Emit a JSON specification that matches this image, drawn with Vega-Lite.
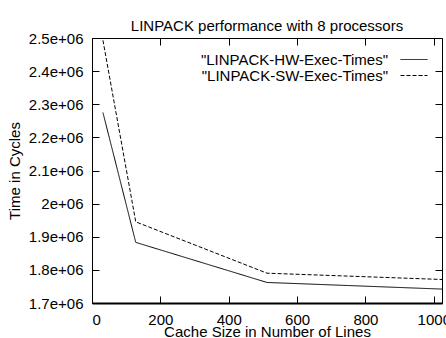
{
  "$schema": "https://vega.github.io/schema/vega-lite/v6.json",
  "autosize": "none",
  "width": 350,
  "height": 265,
  "padding": {"left": 92, "top": 38, "right": 4, "bottom": 35},
  "background": "white",
  "config": {
    "font": "Liberation Sans",
    "view": {"stroke": "black", "strokeWidth": 1},
    "axis": {"labelFont": "Liberation Sans", "titleFont": "Liberation Sans", "labelFontSize": 15, "titleFontSize": 15, "titleFontWeight": "normal", "labelColor": "black", "titleColor": "black", "domain": false, "ticks": false, "labelPadding": 9, "grid": true, "gridColor": "black", "gridOpacity": 1, "gridWidth": 1}
  },
  "title": {"text": "LINPACK performance with 8 processors", "fontSize": 15, "fontWeight": "normal", "font": "Liberation Sans", "color": "black", "offset": -3},
  "data": {"values": [
    {"lines": 32, "cycles": 2275000, "series": "\"LINPACK-HW-Exec-Times\""},
    {"lines": 128, "cycles": 1883000, "series": "\"LINPACK-HW-Exec-Times\""},
    {"lines": 512, "cycles": 1762000, "series": "\"LINPACK-HW-Exec-Times\""},
    {"lines": 1024, "cycles": 1742000, "series": "\"LINPACK-HW-Exec-Times\""},
    {"lines": 32, "cycles": 2493000, "series": "\"LINPACK-SW-Exec-Times\""},
    {"lines": 128, "cycles": 1945000, "series": "\"LINPACK-SW-Exec-Times\""},
    {"lines": 512, "cycles": 1790000, "series": "\"LINPACK-SW-Exec-Times\""},
    {"lines": 1024, "cycles": 1771000, "series": "\"LINPACK-SW-Exec-Times\""}
  ]},
  "mark": {"type": "line", "color": "black", "strokeWidth": 1, "clip": true},
  "encoding": {
    "x": {"field": "lines", "type": "quantitative", "scale": {"domain": [0, 1024], "nice": false, "zero": false},
          "axis": {"orient": "bottom", "title": "Cache Size in Number of Lines", "values": [0, 200, 400, 600, 800, 1000], "format": "d", "titlePadding": -3, "gridDash": [7, 251], "domain": true, "domainColor": "black", "domainWidth": 2}},
    "y": {"field": "cycles", "type": "quantitative", "scale": {"domain": [1700000, 2500000], "nice": false, "zero": false},
          "axis": {"orient": "left", "title": "Time in Cycles", "values": [1700000, 1800000, 1900000, 2000000, 2100000, 2200000, 2300000, 2400000, 2500000], "labelExpr": "replace(format(datum.value, '.2~e'), 'e+', 'e+0')", "titlePadding": 6, "gridDash": [7, 336]}},
    "strokeDash": {"field": "series", "type": "nominal",
                   "scale": {"domain": ["\"LINPACK-HW-Exec-Times\"", "\"LINPACK-SW-Exec-Times\""], "range": [[1, 0], [4, 2]]},
                   "legend": {"title": null, "orient": "none", "legendX": 314.5, "legendY": 14, "symbolType": "M-2.25,0H2.25", "symbolSize": 144, "symbolStrokeColor": "black", "symbolStrokeWidth": 1, "symbolOffset": 0, "labelOffset": -33.5, "labelAlign": "right", "labelFontSize": 15, "labelFont": "Liberation Sans", "labelColor": "black", "labelLimit": 0, "rowPadding": 0}}
  }
}
